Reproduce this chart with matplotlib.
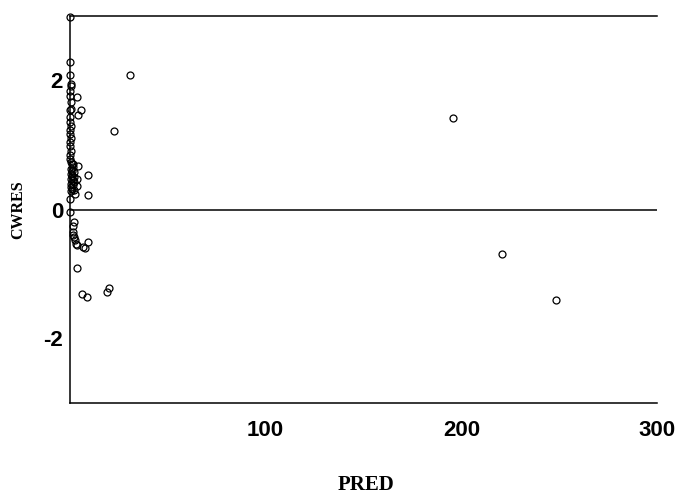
import matplotlib
matplotlib.use("Agg")
import matplotlib.pyplot as plt

# PRED / CWRES pairs
pred = [
    0.2, 0.2, 0.2, 0.3, 0.3, 0.2, 0.2, 0.3, 0.3, 0.2,
    3.7, 5.6, 3.9, 30.7, 22.6,
    0.2, 0.2, 0.3, 0.2, 0.2, 0.3, 0.2, 0.2, 0.3, 0.2, 0.2, 0.3, 1.5,
    0.8, 1.5, 0.4, 1.2, 2.0, 0.6, 1.0, 1.8, 0.3, 1.3, 2.2, 0.7, 1.6, 0.5, 1.1, 2.0, 0.4,
    4.2, 9.4, 3.4, 3.4, 2.5, 9.0,
    0.2, 0.2,
    2.0, 1.7, 1.4, 1.7, 2.0, 2.6, 3.1, 3.4, 6.5, 7.7, 9.4, 3.7,
    6.0, 8.8, 18.7, 20.1,
    195.6, 220.9, 248.3,
]
cwres = [
    2.99, 2.28, 2.09, 1.95, 1.91, 1.84, 1.76, 1.66, 1.56, 1.54,
    1.75, 1.55, 1.47, 2.09, 1.22,
    1.43, 1.36, 1.30, 1.24, 1.17, 1.11, 1.04, 0.98, 0.91, 0.85, 0.79, 0.73, 0.71,
    0.70, 0.66, 0.63, 0.60, 0.58, 0.55, 0.52, 0.50, 0.47, 0.45, 0.42, 0.40, 0.38, 0.35, 0.32, 0.30, 0.28,
    0.67, 0.53, 0.48, 0.36, 0.24, 0.23,
    0.17, -0.04,
    -0.20, -0.26, -0.35, -0.39, -0.43, -0.48, -0.53, -0.55, -0.58, -0.59, -0.51, -0.90,
    -1.31, -1.35, -1.28, -1.21,
    1.42, -0.69, -1.41,
]

x_ticks = [100, 200, 300]
y_ticks = [-2, 0, 2]

fig = plt.figure(figsize=(6.78, 4.95), dpi=100)
ax = fig.add_axes([70 / 678, 1 - 403 / 495, 587 / 678, 387 / 495])

ax.plot(pred, cwres, "o", ms=5, mfc="none", mec="black", mew=0.9, clip_on=False, zorder=3)
ax.axhline(0, color="black", lw=1.1, zorder=2)

ax.set_xlim(0, 300)
ax.set_ylim(-3, 3)
ax.set_xticks(x_ticks)
ax.set_yticks(y_ticks)

tick_font = dict(family="Liberation Sans", weight="bold", size=16)
ax.set_xticklabels([str(t) for t in x_ticks], fontdict=tick_font)
ax.set_yticklabels([str(t) for t in y_ticks], fontdict=tick_font)
ax.tick_params(axis="x", length=0, pad=12)
ax.tick_params(axis="y", length=0, pad=5)

for side in ["left", "bottom", "top"]:
    ax.spines[side].set_linewidth(1.1)
    ax.spines[side].set_color("black")
ax.spines["right"].set_visible(False)

# axis titles placed by hand, as in the reference
fig.text(366 / 678, 1 - 485 / 495, "PRED", family="Liberation Serif", weight="bold",
         size=15, ha="center", va="center")
fig.text(18 / 678, 1 - 210 / 495, "CWRES", family="Liberation Serif", weight="bold",
         size=11.5, ha="center", va="center", rotation=90)

fig.savefig("out.png", dpi=100)
